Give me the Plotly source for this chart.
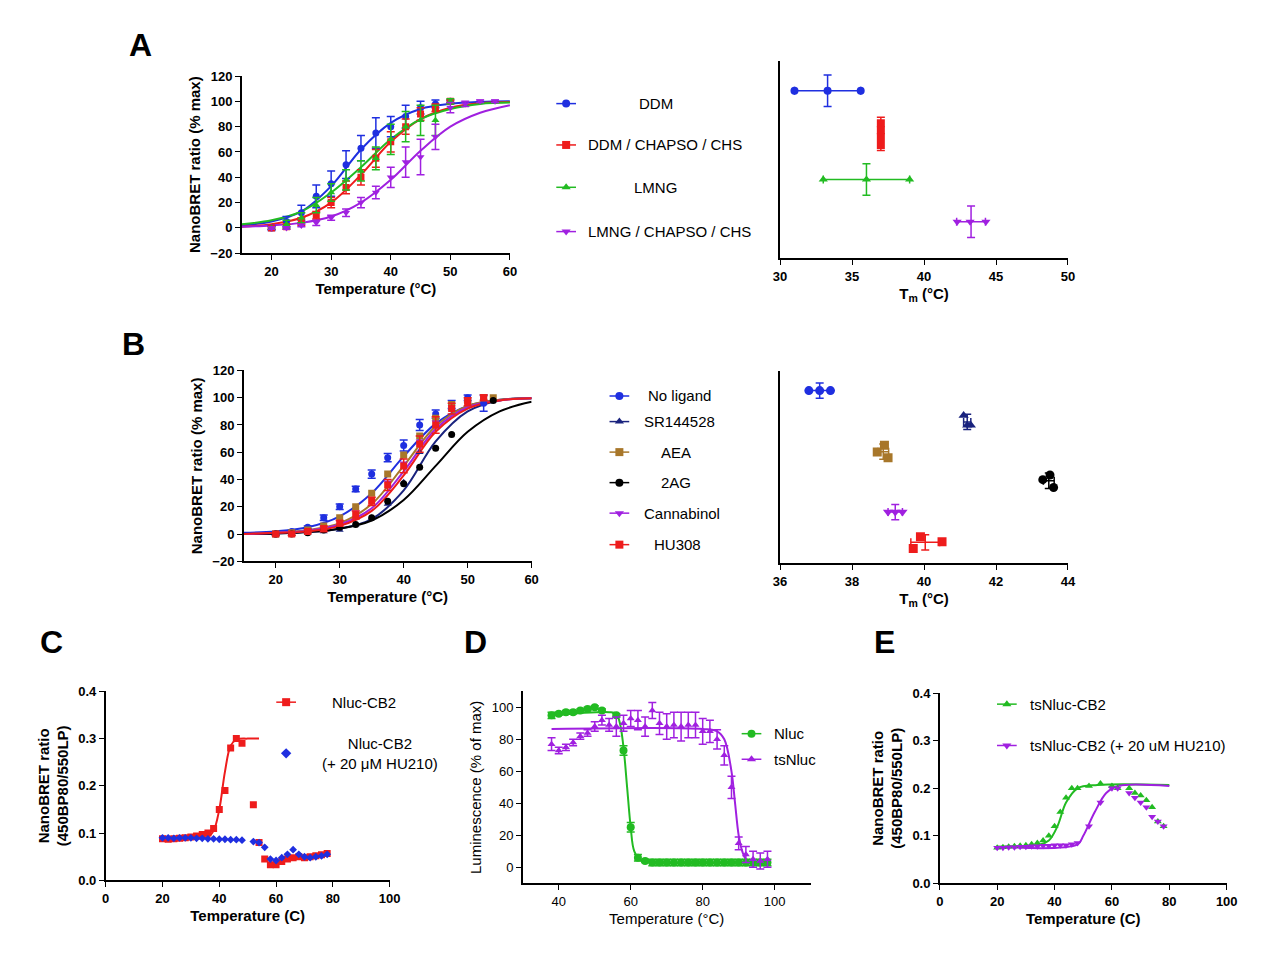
import plotly.graph_objects as go

W, H = 1280, 967
OFF = 8  # page body margin
BLUE, RED, GREEN, PURPLE = "#1f2fe0", "#ee1c1c", "#22bb22", "#a020e0"
NAVY, BROWN, BLACK = "#1a237e", "#a8772a", "#000000"

# ---------- Panel A (left) ----------
tA = [20, 22.5, 25, 27.5, 30, 32.5, 35, 37.5, 40, 42.5, 45, 47.5, 50, 52.5, 55, 57.5]
A_ddm = [0, 5, 12, 25, 35, 50, 63, 75, 80, 88, 95, 98, 100, None, None, None]
A_ddm_e = [2, 4, 6, 9, 10, 11, 10, 12, 8, 9, 5, 3, 1, 0, 0, 0]
A_dcc = [0, 1, 5, 10, 20, 32, 40, 55, 68, 80, 90, 95, 100, None, None, None]
A_dcc_e = [1, 2, 3, 3, 4, 5, 6, 7, 8, 6, 5, 3, 1, 0, 0, 0]
A_lmng = [0, 3, 8, 18, 28, 38, 45, 55, 70, 80, 85, 85, 100, None, None, None]
A_lmng_e = [1, 3, 4, 6, 7, 8, 8, 9, 12, 12, 12, 12, 2, 0, 0, 0]
A_lcc = [0, 0, 2, 4, 8, 12, 20, 28, 40, 52, 56, 72, 95, 98, 100, 100]
A_lcc_e = [1, 1, 1, 2, 2, 3, 4, 5, 8, 12, 14, 10, 4, 2, 1, 1]
fitT = [15, 20, 25, 30, 35, 40, 45, 50, 55, 60]
fit_ddm = [2, 5, 13, 33, 62, 83, 94, 98, 99.5, 100]
fit_dcc = [1, 3, 8, 20, 42, 68, 86, 95, 98.5, 99.5]
fit_lmng = [3, 6, 13, 28, 48, 70, 86, 94, 98, 99]
fit_lcc = [1, 2, 4, 9, 20, 38, 61, 80, 91, 97]

# ---------- Panel A (right) Tm ----------
ArT = {"ddm": [31.0, 33.3, 35.6], "dcc": [37.0, 37.0, 37.0, 37.0], "lmng": [33.0, 36.0, 39.0], "lcc": [42.3, 43.2, 44.3]}
ArY = {"ddm": [85, 85, 85], "dcc": [68.5, 65, 61.5, 57.5], "lmng": [40, 40, 40], "lcc": [18.5, 18.5, 18.5]}

# ---------- Panel B (left) ----------
tB = [20, 22.5, 25, 27.5, 30, 32.5, 35, 37.5, 40, 42.5, 45, 47.5, 50, 52.5, 54]
B_no = [0, 2, 5, 12, 20, 33, 44, 56, 65, 80, 88, 95, 100, 96, None]
B_sr = [0, 0, 1, 2, 3, 7, 12, 22, 38, 60, 80, 92, 98, 100, None]
B_aea = [0, 1, 3, 6, 12, 20, 30, 44, 58, 72, 85, 95, 98, 100, 100]
B_2ag = [0, 0, 1, 3, 5, 7, 12, 24, 37, 49, 63, 73, None, None, 98]
B_cbn = [0, 1, 2, 4, 9, 16, 26, 38, 52, 68, 82, 93, 98, 100, None]
B_hu = [0, 0, 2, 4, 8, 14, 24, 36, 50, 66, 80, 92, 97, 100, None]
B_no_e = [1, 1, 1, 2, 2, 2, 3, 3, 4, 4, 3, 3, 2, 6, 0]
B_hu_e = [1, 1, 1, 2, 2, 3, 3, 4, 5, 6, 6, 4, 3, 2, 0]
fitTB = [15, 20, 25, 30, 35, 40, 45, 50, 55, 60]
fitB_no = [1, 2, 5, 13, 30, 57, 81, 94, 98.5, 99.5]
fitB_sr = [0, 0.5, 1.5, 4, 11, 32, 68, 90, 98, 99.5]
fitB_aea = [0, 1, 3, 8, 22, 50, 79, 94, 98.5, 99.5]
fitB_2ag = [0, 0.5, 1.5, 4, 10, 25, 50, 75, 90, 97]
fitB_cbn = [0, 1, 2.5, 7, 19, 46, 77, 93, 98, 99.5]
fitB_hu = [0, 1, 2, 6, 17, 43, 75, 92, 98, 99.5]

# ---------- Panel B (right) Tm ----------
BrT = {"no": [36.8, 37.1, 37.4], "sr": [41.1, 41.2, 41.3], "aea": [38.7, 38.9, 39.0],
       "2ag": [43.3, 43.5, 43.6], "cbn": [39.0, 39.2, 39.4], "hu": [39.7, 39.9, 40.5]}
BrY = {"no": [90, 90, 90], "sr": [77, 72, 72], "aea": [58, 61.5, 55],
       "2ag": [43.6, 46, 39.5], "cbn": [26.7, 26.7, 26.7], "hu": [7.7, 13.8, 11.3]}

# ---------- Panel C ----------
tC = [20, 22, 24, 26, 28, 30, 32, 34, 36, 38, 40, 42, 44, 46, 48, 52, 54, 56, 58, 60, 62, 64, 66, 68, 70, 72, 74, 76, 78]
C_red = [0.088, 0.087, 0.088, 0.089, 0.090, 0.092, 0.094, 0.097, 0.100, 0.110, 0.150, 0.190, 0.280, 0.300, 0.290,
         0.160, 0.080, 0.045, 0.033, 0.033, 0.040, 0.045, 0.048, 0.050, 0.048, 0.050, 0.052, 0.054, 0.057]
C_blue = [0.090, 0.090, 0.089, 0.090, 0.090, 0.090, 0.089, 0.089, 0.088, 0.088, 0.087, 0.087, 0.086, 0.086, 0.085,
          0.082, 0.080, 0.070, 0.045, 0.042, 0.048, 0.055, 0.065, 0.055, 0.050, 0.048, 0.050, 0.052, 0.055]
fitC_T = [20, 30, 36, 38, 40, 42, 44, 46, 50, 54]
fitC = [0.087, 0.088, 0.092, 0.105, 0.150, 0.230, 0.285, 0.298, 0.300, 0.300]

# ---------- Panel D ----------
tD = [38, 40, 42, 44, 46, 48, 50, 52, 56, 58, 60, 62, 64, 66, 68, 70, 72, 74, 76, 78, 80, 82, 84, 86, 88, 90, 92, 94, 96, 98]
D_nluc = [95, 96, 97, 97, 98, 99, 100, 98, 95, 73, 25, 6, 4, 3, 3, 3, 3, 3, 3, 3, 3, 3, 3, 3, 3, 3, 3, 3, 3, 3]
D_nluc_e = [2, 1, 1, 1, 1, 1, 1, 1, 1, 3, 3, 2, 1, 2, 2, 2, 2, 2, 2, 2, 2, 2, 2, 2, 2, 2, 2, 2, 2, 2]
tD2 = [38, 40, 42, 44, 46, 48, 50, 52, 54, 56, 58, 60, 62, 64, 66, 68, 70, 72, 74, 76, 78, 80, 82, 84, 86, 88, 90, 92, 94, 96, 98]
D_ts = [77, 73, 75, 78, 82, 84, 88, 92, 89, 88, 90, 93, 92, 88, 98, 90, 88, 89, 88, 89, 89, 85, 85, 80, 70, 50, 15, 8, 5, 4, 5]
D_ts_e = [4, 2, 2, 2, 2, 2, 3, 3, 4, 6, 5, 5, 6, 6, 5, 7, 8, 8, 9, 8, 8, 8, 7, 6, 6, 7, 4, 5, 5, 5, 5]
fitD_T = [38, 54, 56, 57, 58, 59, 60, 61, 63, 66, 98]
fitD = [95, 97, 96, 90, 75, 50, 25, 10, 4, 3, 3]
fitD2_T = [38, 80, 84, 86, 88, 89, 90, 91, 92, 94, 98]
fitD2 = [86.5, 86.5, 85, 80, 60, 40, 20, 10, 5, 2.5, 2]

# ---------- Panel E ----------
tE = [20, 22, 24, 26, 28, 30, 32, 34, 36, 38, 40, 42, 44, 46, 48, 52, 56, 60, 62, 66, 68, 70, 72, 74, 76, 78]
E_g = [0.075, 0.076, 0.077, 0.078, 0.079, 0.080, 0.082, 0.085, 0.090, 0.100, 0.120, 0.150, 0.180, 0.200, 0.200,
       0.205, 0.210, 0.205, 0.200, 0.200, 0.190, 0.185, 0.175, 0.160, 0.130, 0.120]
E_p = [0.075, 0.075, 0.076, 0.076, 0.077, 0.077, 0.078, 0.078, 0.079, 0.079, 0.080, 0.080, 0.080, 0.082, 0.085,
       0.120, 0.170, 0.200, 0.200, 0.190, 0.180, 0.170, 0.160, 0.140, 0.130, 0.120]
fitE_T = [20, 35, 38, 41, 44, 48, 55, 80]
fitE = [0.077, 0.082, 0.090, 0.120, 0.170, 0.200, 0.207, 0.207]
fitE2_T = [20, 48, 50, 54, 58, 62, 80]
fitE2 = [0.077, 0.082, 0.100, 0.150, 0.190, 0.205, 0.205]


def px(x0, x1):
    return [(x0 - OFF) / W, (x1 - OFF) / W]


def py(ytop, ybot):
    return [1 - (ybot - OFF) / H, 1 - (ytop - OFF) / H]


fig = go.Figure()
BF = "Liberation Sans"


def axis(dom, rng, dtick=None, title="", bold=True, tickvals=None, showlabels=True, anchor=None):
    d = dict(domain=dom, range=rng, showline=True, linecolor="black", linewidth=1.5, ticks="outside" if showlabels else "",
             tickcolor="black", ticklen=5, showgrid=False, zeroline=False, showticklabels=showlabels,
             tickfont=dict(family=BF, size=13, color="black", weight="bold" if bold else "normal"),
             title=dict(text=title, font=dict(family=BF, size=15, color="black", weight="bold" if bold else "normal"), standoff=6))
    if dtick is not None:
        d["dtick"] = dtick
        d["tick0"] = 0
    if tickvals is not None:
        d["tickvals"] = tickvals
    if anchor:
        d["anchor"] = anchor
    return d


lay = {}
lay["xaxis"] = axis(px(238, 510), [15, 60], tickvals=[20, 30, 40, 50, 60], title="Temperature (°C)", anchor="y")
lay["yaxis"] = axis(py(70, 250), [-20, 120], dtick=20, title="NanoBRET ratio (% max)", anchor="x")
lay["xaxis2"] = axis(px(784, 1076), [30, 50], dtick=5, title="T<sub>m</sub> (°C)", anchor="y2")
lay["yaxis2"] = axis(py(55, 255), [0, 100], showlabels=False, anchor="x2")
lay["xaxis3"] = axis(px(240, 532), [15, 60], tickvals=[20, 30, 40, 50, 60], title="Temperature (°C)", anchor="y3")
lay["yaxis3"] = axis(py(369, 563), [-20, 120], dtick=20, title="NanoBRET ratio (% max)", anchor="x3")
lay["xaxis4"] = axis(px(784, 1076), [36, 44], dtick=2, title="T<sub>m</sub> (°C)", anchor="y4")
lay["yaxis4"] = axis(py(370, 565), [0, 100], showlabels=False, anchor="x4")
lay["xaxis5"] = axis(px(100, 388), [0, 100], dtick=20, title="Temperature (C)", anchor="y5")
lay["yaxis5"] = axis(py(695, 887), [0, 0.4], dtick=0.1, title="NanoBRET ratio<br>(450BP80/550LP)", anchor="x5")
lay["yaxis5"]["tickformat"] = ".1f"
lay["xaxis6"] = axis(px(523, 815), [30, 110], tickvals=[40, 60, 80, 100], title="Temperature (°C)", bold=False, anchor="y6")
lay["yaxis6"] = axis(py(695, 890), [-10, 110], tickvals=[0, 20, 40, 60, 80, 100], title="Luminescence (% of max)", bold=False, anchor="x6")
lay["xaxis7"] = axis(px(946, 1237), [0, 100], dtick=20, title="Temperature (C)", anchor="y7")
lay["yaxis7"] = axis(py(697, 890), [0, 0.4], dtick=0.1, title="NanoBRET ratio<br>(450BP80/550LP)", anchor="x7")
lay["yaxis7"]["tickformat"] = ".1f"
lay["xaxis8"] = dict(domain=[0, 1], range=[OFF, W + OFF], visible=False, anchor="y8")
lay["yaxis8"] = dict(domain=[0, 1], range=[H + OFF, OFF], visible=False, anchor="x8")


def add(x, y, xa, ya, color, symbol, size=8, mode="markers", err=None, errx=None, width=2, shape="linear"):
    kw = dict(x=x, y=y, xaxis=xa, yaxis=ya, mode=mode, showlegend=False, hoverinfo="skip",
              marker=dict(color=color, symbol=symbol, size=size), line=dict(color=color, width=width, shape=shape))
    if err is not None:
        kw["error_y"] = dict(type="data", array=err, color=color, thickness=1.5, width=4)
    if errx is not None:
        kw["error_x"] = dict(type="data", array=errx, color=color, thickness=1.5, width=4)
    fig.add_trace(go.Scatter(**kw))


for fit, col in [(fit_ddm, BLUE), (fit_dcc, RED), (fit_lmng, GREEN), (fit_lcc, PURPLE)]:
    add(fitT, fit, "x", "y", col, "circle", mode="lines", shape="spline")
for d, e, col, sym in [(A_ddm, A_ddm_e, BLUE, "circle"), (A_dcc, A_dcc_e, RED, "square"),
                       (A_lmng, A_lmng_e, GREEN, "triangle-up"), (A_lcc, A_lcc_e, PURPLE, "triangle-down")]:
    add(tA, d, "x", "y", col, sym, size=7, err=e)

for k, col, sym in [("ddm", BLUE, "circle"), ("dcc", RED, "square"), ("lmng", GREEN, "triangle-up"), ("lcc", PURPLE, "triangle-down")]:
    xs, ys = ArT[k], ArY[k]
    mx = sum(xs) / len(xs)
    my = sum(ys) / len(ys)
    sx = (max(xs) - min(xs)) / 2
    sy = max(8, (max(ys) - min(ys)) / 2 + 3)
    add(xs, ys, "x2", "y2", col, sym, size=8)
    add([mx], [my], "x2", "y2", col, "line-ns", size=1, err=[sy], errx=[sx])

for fit, col in [(fitB_no, BLUE), (fitB_sr, NAVY), (fitB_aea, BROWN), (fitB_2ag, BLACK), (fitB_cbn, PURPLE), (fitB_hu, RED)]:
    add(fitTB, fit, "x3", "y3", col, "circle", mode="lines", shape="spline")
for d, col, sym, e in [(B_no, BLUE, "circle", B_no_e), (B_sr, NAVY, "triangle-up", None), (B_aea, BROWN, "square", None),
                       (B_2ag, BLACK, "circle", None), (B_cbn, PURPLE, "triangle-down", None), (B_hu, RED, "square", B_hu_e)]:
    add(tB, d, "x3", "y3", col, sym, size=7, err=e)

for k, col, sym in [("no", BLUE, "circle"), ("sr", NAVY, "triangle-up"), ("aea", BROWN, "square"),
                    ("2ag", BLACK, "circle"), ("cbn", PURPLE, "triangle-down"), ("hu", RED, "square")]:
    xs, ys = BrT[k], BrY[k]
    mx = sum(xs) / len(xs)
    my = sum(ys) / len(ys)
    add(xs, ys, "x4", "y4", col, sym, size=9)
    add([mx], [my], "x4", "y4", col, "line-ns", size=1, err=[max(4, (max(ys) - min(ys)) / 2)], errx=[(max(xs) - min(xs)) / 2])

add(fitC_T, fitC, "x5", "y5", RED, "square", mode="lines", shape="spline")
add(tC, C_red, "x5", "y5", RED, "square", size=7)
add(tC, C_blue, "x5", "y5", BLUE, "diamond", size=6)

add(fitD_T, fitD, "x6", "y6", GREEN, "circle", mode="lines", shape="spline")
add(fitD2_T, fitD2, "x6", "y6", PURPLE, "circle", mode="lines", shape="spline")
add(tD, D_nluc, "x6", "y6", GREEN, "circle", size=8, err=D_nluc_e)
add(tD2, D_ts, "x6", "y6", PURPLE, "triangle-up", size=7, err=D_ts_e)

add(fitE_T, fitE, "x7", "y7", GREEN, "circle", mode="lines", shape="spline")
add(fitE2_T, fitE2, "x7", "y7", PURPLE, "circle", mode="lines", shape="spline")
add(tE, E_g, "x7", "y7", GREEN, "triangle-up", size=7)
add(tE, E_p, "x7", "y7", PURPLE, "triangle-down", size=7)

ann = []


def leg(xc, y, col, sym, text, tx, anchor="left", size=13, line=True):
    if line:
        add([xc - 10, xc + 10], [y, y], "x8", "y8", col, sym, mode="lines", width=1.5)
    add([xc], [y], "x8", "y8", col, sym, size=8)
    ann.append(dict(x=(tx - OFF) / W, y=1 - (y - OFF) / H, xref="paper", yref="paper", text=text, showarrow=False,
                    xanchor=anchor, yanchor="middle", font=dict(family=BF, size=size + 2, color="black")))


leg(567, 98, BLUE, "circle", "DDM", 658, "center")
leg(567, 140, RED, "square", "DDM / CHAPSO / CHS", 587)
leg(567, 183, GREEN, "triangle-up", "LMNG", 658, "center")
leg(567, 228, PURPLE, "triangle-down", "LMNG / CHAPSO / CHS", 587)
leg(621, 395, BLUE, "circle", "No ligand", 648)
leg(621, 421, NAVY, "triangle-up", "SR144528", 644)
leg(621, 452, BROWN, "square", "AEA", 678, "center")
leg(621, 483, BLACK, "circle", "2AG", 678, "center")
leg(621, 514, PURPLE, "triangle-down", "Cannabinol", 644)
leg(621, 546, RED, "square", "HU308", 680, "center")
leg(283, 706, RED, "square", "Nluc-CB2", 327)
leg(283, 758, BLUE, "diamond", "Nluc-CB2<br>(+ 20 μM HU210)", 317, line=False)
leg(755, 738, GREEN, "circle", "Nluc", 776)
leg(755, 764, PURPLE, "triangle-up", "tsNluc", 776)
leg(1014, 708, GREEN, "triangle-up", "tsNluc-CB2", 1035)
leg(1014, 750, PURPLE, "triangle-down", "tsNluc-CB2 (+ 20 uM HU210)", 1035)

for lt, x, y in [("A", 135, 38), ("B", 128, 342), ("C", 45, 645), ("D", 475, 645), ("E", 890, 645)]:
    ann.append(dict(x=(x - OFF) / W, y=1 - (y - OFF) / H, xref="paper", yref="paper", text=lt, showarrow=False,
                    xanchor="center", yanchor="middle", font=dict(family=BF, size=32, color="black", weight="bold")))

fig.update_layout(width=W, height=H, margin=dict(l=0, r=0, t=0, b=0), plot_bgcolor="rgba(0,0,0,0)",
                  paper_bgcolor="white", annotations=ann, **lay)
fig.write_html("out.html")
